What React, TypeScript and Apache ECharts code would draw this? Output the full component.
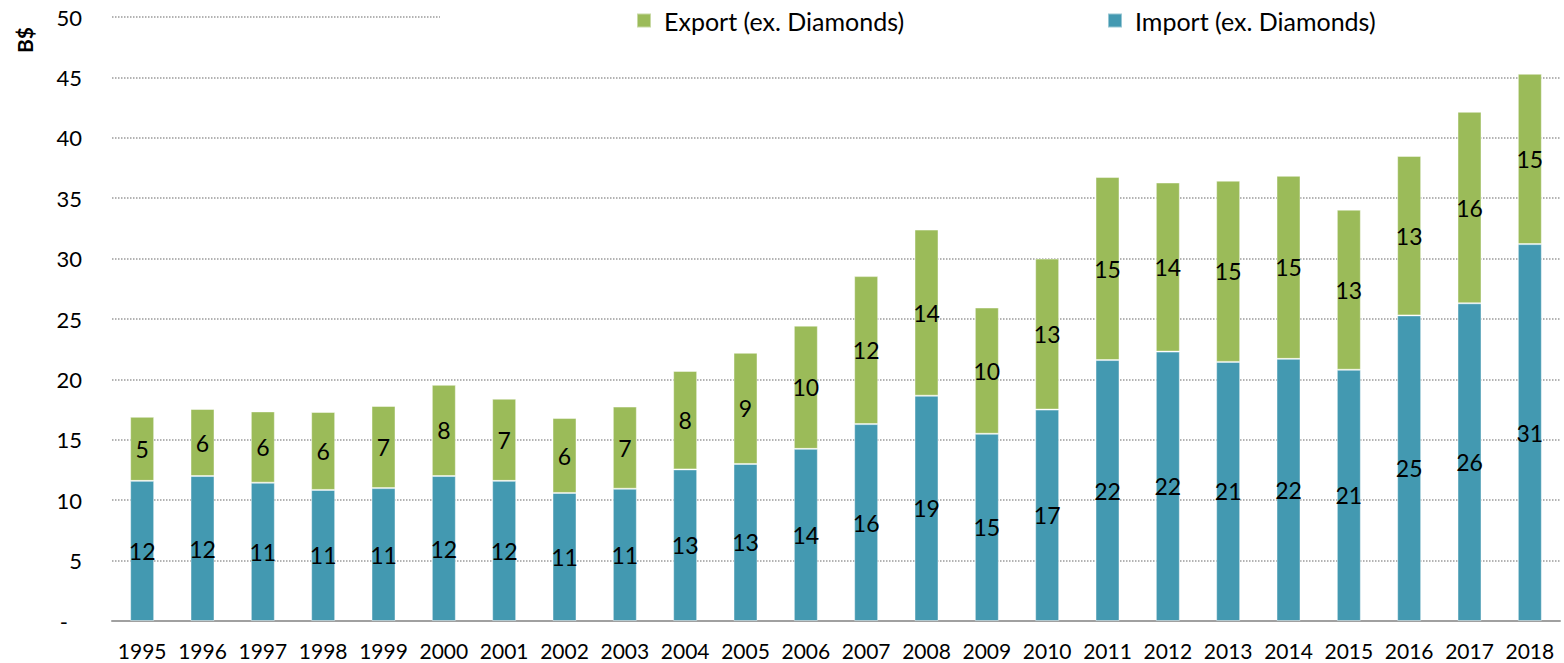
import React, { useEffect, useRef } from "react";
import * as echarts from "echarts";

const years = ["1995","1996","1997","1998","1999","2000","2001","2002","2003","2004","2005","2006","2007","2008","2009","2010","2011","2012","2013","2014","2015","2016","2017","2018"];
const importValues = [11.6,12.0,11.45,10.85,11.0,12.0,11.6,10.6,10.95,12.55,13.0,14.25,16.3,18.65,15.5,17.5,21.6,22.3,21.45,21.7,20.8,25.3,26.3,31.2];
const exportValues = [5.3,5.55,5.9,6.45,6.8,7.55,6.8,6.2,6.8,8.15,9.2,10.2,12.25,13.75,10.45,12.5,15.15,14.0,15.0,15.15,13.25,13.2,15.85,14.1];
const importLabels = ["12","12","11","11","11","12","12","11","11","13","13","14","16","19","15","17","22","22","21","22","21","25","26","31"];
const exportLabels = ["5","6","6","6","7","8","7","6","7","8","9","10","12","14","10","13","15","14","15","15","13","13","16","15"];
const yTicks = { min: 0, max: 50, step: 5 };
const exportName = "Export (ex. Diamonds)";
const importName = "Import (ex. Diamonds)";

const FONT = "Lato, 'Noto Sans', sans-serif";

export default function App() {
  const ref = useRef<HTMLDivElement>(null);
  useEffect(() => {
    document.body.style.margin = "0";
    const chart = echarts.init(ref.current!, null, { renderer: "svg" });
    const legendText = { fontFamily: FONT, fontSize: 25, color: "#000", padding: [0, 0, 0, 8] };
    chart.setOption({
      animation: false,
      backgroundColor: "#fff",
      grid: { left: 112, right: 4, top: 17, bottom: 42, containLabel: false },
      legend: [
        {
          data: [exportName],
          left: 440,
          top: 0,
          backgroundColor: "#fff",
          padding: [8, 800, 8, 196],
          itemWidth: 14,
          itemHeight: 14,
          icon: "rect",
          textStyle: legendText,
        },
        {
          data: [importName],
          left: 1107,
          top: 0,
          padding: [8, 5, 8, 0],
          itemWidth: 14,
          itemHeight: 14,
          icon: "rect",
          textStyle: legendText,
        },
      ],
      graphic: [
        {
          type: "text",
          x: 24,
          y: 40,
          rotation: Math.PI / 2,
          style: {
            text: "B$",
            align: "center",
            verticalAlign: "middle",
            font: "bold 21px " + FONT,
            fill: "#000",
          },
        },
      ],
      xAxis: {
        type: "category",
        data: years,
        axisLine: { lineStyle: { color: "#a0a0a0", width: 2 } },
        axisTick: { length: 8, lineStyle: { color: "#a0a0a0", width: 2 } },
        axisLabel: { interval: 0, hideOverlap: false, fontFamily: FONT, fontSize: 21, color: "#000", margin: 19 },
      },
      yAxis: {
        type: "value",
        min: yTicks.min,
        max: yTicks.max,
        interval: yTicks.step,
        axisLine: { show: false },
        axisTick: { show: false },
        splitLine: { lineStyle: { type: "dotted", color: "#9a9a9a", width: 1.5 } },
        axisLabel: {
          fontFamily: FONT,
          fontSize: 22,
          color: "#000",
          margin: 30,
          formatter: (v: number) => (v === 0 ? "{d|-}" : String(v)),
          rich: { d: { fontFamily: FONT, fontSize: 22, color: "#000", padding: [0, 14, 0, 0] } },
        },
      },
      series: [
        {
          name: importName,
          type: "bar",
          stack: "total",
          barWidth: 24,
          data: importValues,
          itemStyle: { color: "#4399B1", borderColor: "rgba(255,255,255,0.45)", borderWidth: 1 },
          label: {
            show: true,
            position: "inside",
            color: "#000",
            fontFamily: FONT,
            fontSize: 23,
            formatter: (p: any) => importLabels[p.dataIndex],
          },
        },
        {
          name: exportName,
          type: "bar",
          stack: "total",
          barWidth: 24,
          data: exportValues,
          itemStyle: { color: "#9BBB59", borderColor: "rgba(255,255,255,0.45)", borderWidth: 1 },
          label: {
            show: true,
            position: "inside",
            color: "#000",
            fontFamily: FONT,
            fontSize: 23,
            formatter: (p: any) => exportLabels[p.dataIndex],
          },
        },
      ],
    });
    return () => chart.dispose();
  }, []);
  return <div ref={ref} style={{ width: 1564, height: 663 }} />;
}
